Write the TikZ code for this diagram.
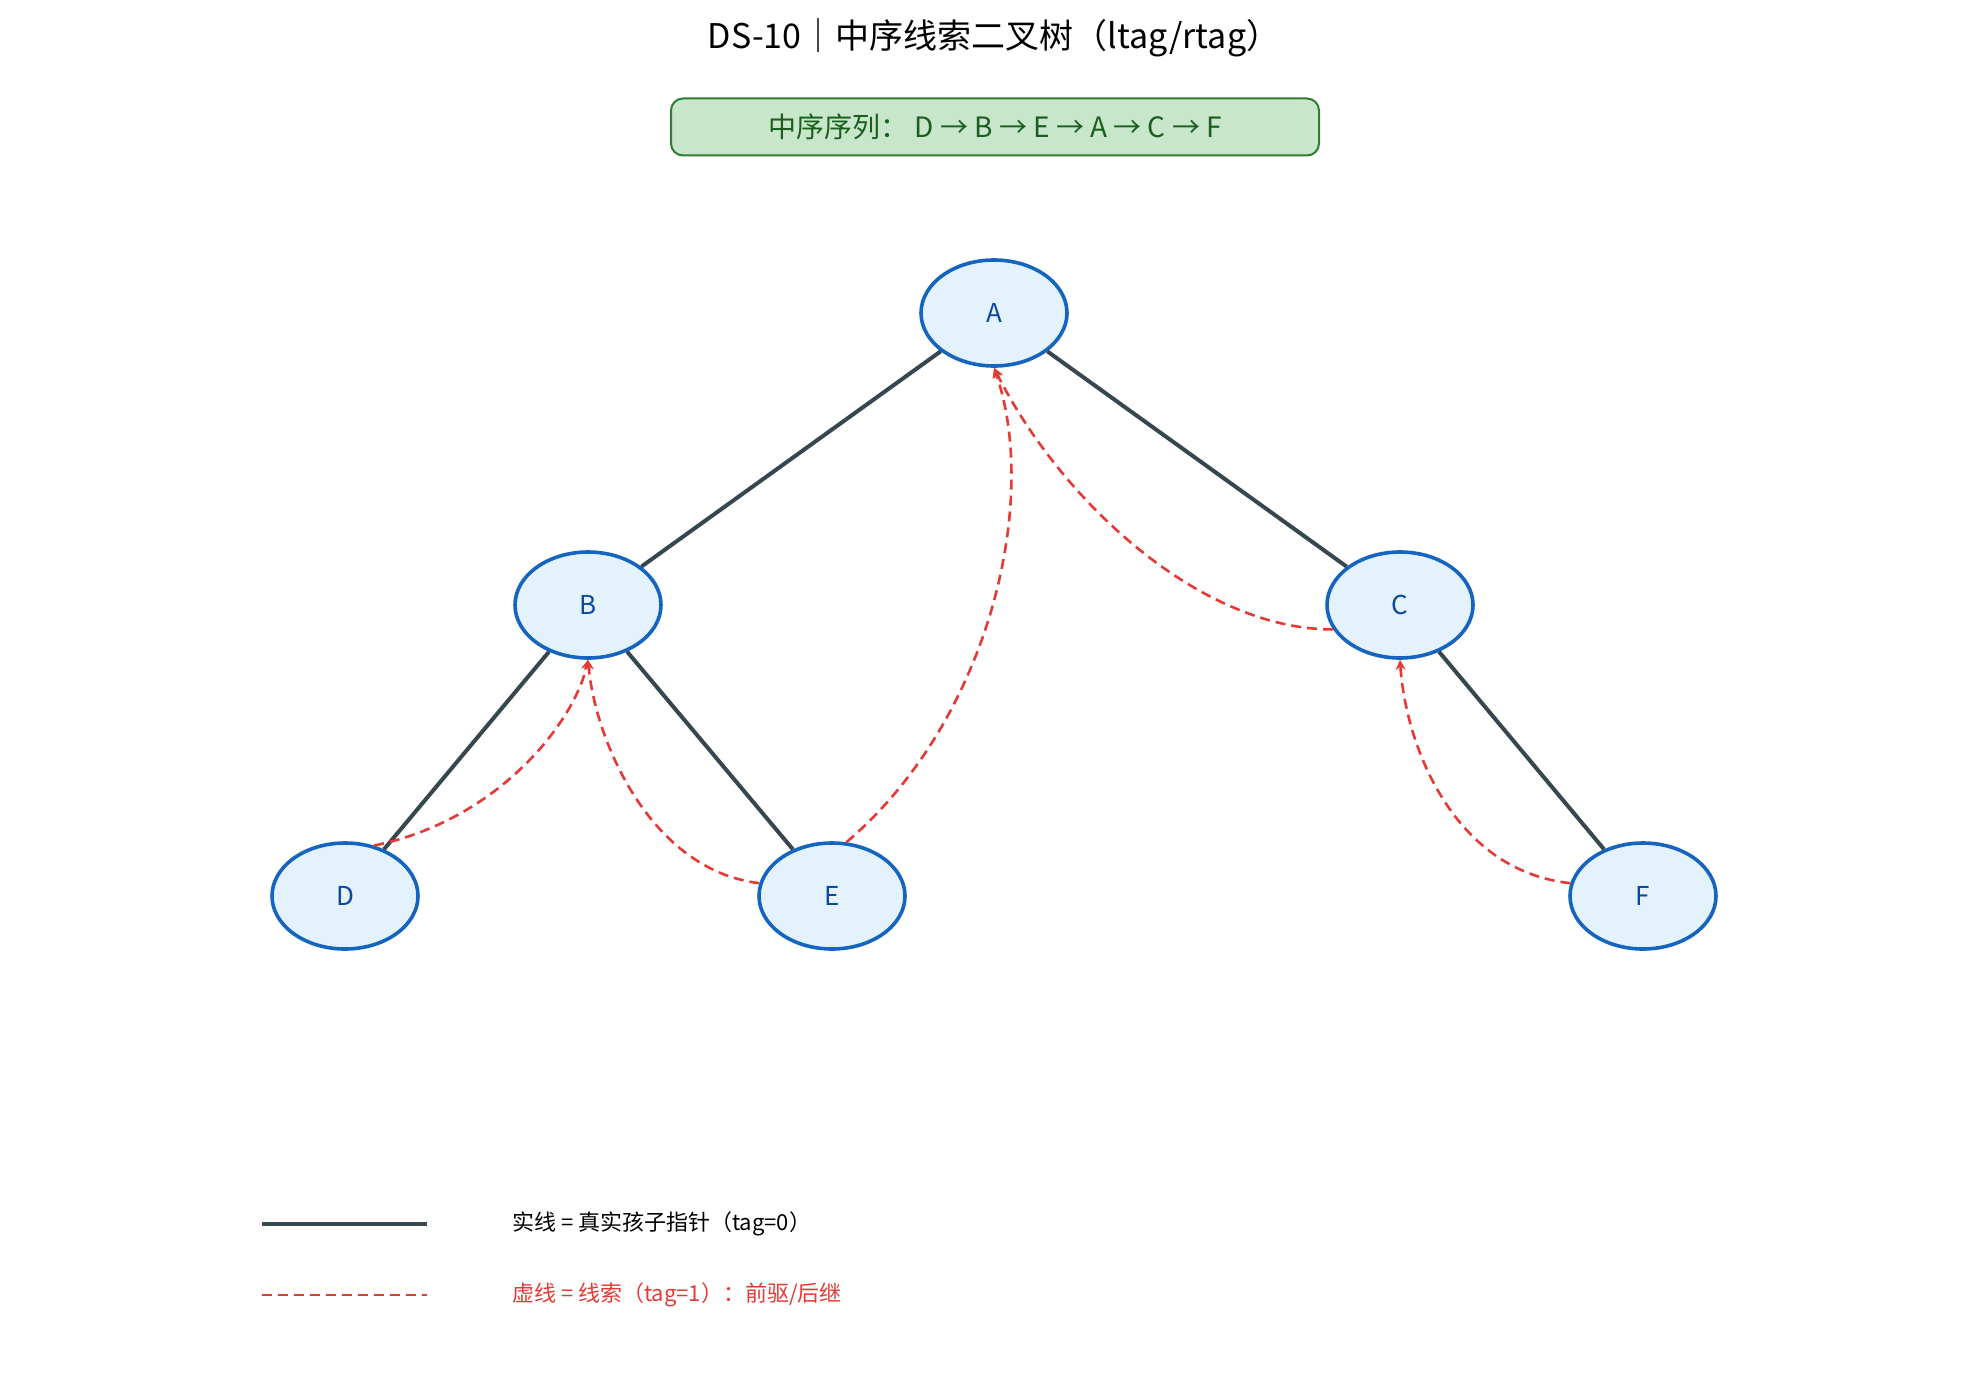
\documentclass[tikz,border=0pt]{standalone}
\usepackage{fontspec}
\setmainfont{Noto Sans CJK SC}
\usetikzlibrary{arrows.meta,shapes.geometric}
\definecolor{nfill}{HTML}{E3F2FD}
\definecolor{ndraw}{HTML}{1565C0}
\definecolor{ntext}{HTML}{0D47A1}
\definecolor{edge}{HTML}{37474F}
\definecolor{thr}{HTML}{E53935}
\definecolor{gfill}{HTML}{C8E6C9}
\definecolor{gdraw}{HTML}{2E7D32}
\definecolor{gtext}{HTML}{1B5E20}
\begin{document}
\begin{tikzpicture}[x=0.5pt,y=-0.5pt,
  tn/.style={ellipse,draw=ndraw,fill=nfill,line width=1.8pt,minimum width=73pt,minimum height=53pt,inner sep=0pt,text=ntext,font=\fontsize{13}{15}\selectfont},
  real/.style={draw=edge,line width=2pt},
  thread/.style={draw=thr,line width=1.3pt,dash pattern=on 5pt off 3pt,-{Stealth[length=5pt,width=5pt]}}]
\useasboundingbox (0,0) rectangle (1979,1380);
\node[font=\fontsize{17}{20}\selectfont] (title) at (994,38) {DS-10｜中序线索二叉树（ltag/rtag）};
\node[draw=gdraw,fill=gfill,line width=1pt,rounded corners=6pt,minimum width=324pt,minimum height=28.5pt,text=gtext,font=\fontsize{14}{16}\selectfont] (seq) at (995,127) {中序序列： D → B → E → A → C → F};
\node[tn] (A) at (994,313) {A};
\node[tn] (B) at (588,605) {B};
\node[tn] (C) at (1400,605) {C};
\node[tn] (D) at (345,896) {D};
\node[tn] (E) at (832,896) {E};
\node[tn] (F) at (1643,896) {F};
\draw[real] (A) -- (B);
\draw[real] (A) -- (C);
\draw[real] (B) -- (D);
\draw[real] (B) -- (E);
\draw[real] (C) -- (F);
\draw[thread] (D.60) .. controls (500,820) and (575,720) .. (B.south);
\draw[thread] (E.170) .. controls (650,870) and (595,740) .. (B.south);
\draw[thread] (E.75) .. controls (990,720) and (1040,500) .. (A.south);
\draw[thread] (C.200) .. controls (1200,630) and (1060,500) .. (A.south);
\draw[thread] (F.170) .. controls (1450,870) and (1405,740) .. (C.south);
\coordinate (l1a) at (262,1224); \coordinate (l1b) at (427,1224);
\coordinate (l2a) at (262,1295); \coordinate (l2b) at (427,1295);
\draw[real] (l1a) -- (l1b);
\draw[draw=thr,line width=1.3pt,dash pattern=on 5pt off 3pt] (l2a) -- (l2b);
\node[anchor=west,font=\fontsize{11}{13}\selectfont] (t1) at (505,1224) {实线 = 真实孩子指针（tag=0）};
\node[anchor=west,text=thr,font=\fontsize{11}{13}\selectfont] (t2) at (505,1295) {虚线 = 线索（tag=1）：前驱/后继};
\end{tikzpicture}
\end{document}
